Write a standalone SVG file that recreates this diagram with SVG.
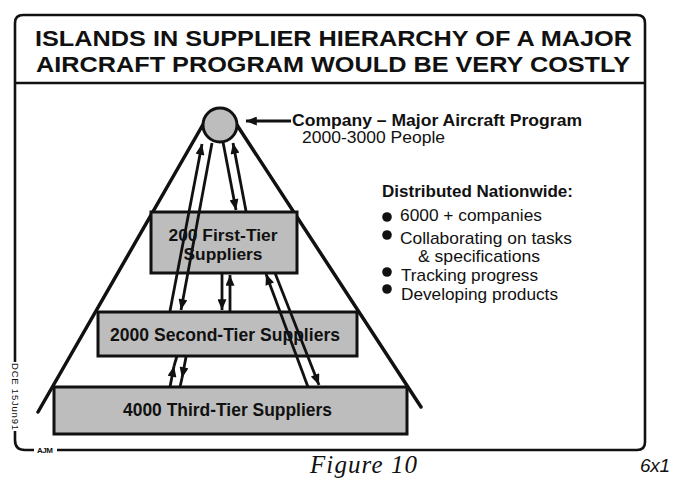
<svg xmlns="http://www.w3.org/2000/svg" width="683" height="489" viewBox="0 0 683 489">
<style>
.frame{fill:none;stroke:#111;stroke-width:2.6}
.tri{fill:none;stroke:#111;stroke-width:3.5;stroke-linecap:round}
.box{fill:#bdbdbd;stroke:#111;stroke-width:3}
.con{fill:none;stroke:#111;stroke-width:2.8}
.t{font-family:"Liberation Sans",Arial,Helvetica,sans-serif;fill:#111}
.b{font-weight:bold}
.title{font-size:21.5px;font-weight:bold}
.lbl{font-size:17.5px;font-weight:bold}
.side{font-size:17px}
</style>
<defs>
<marker id="ah" viewBox="0 0 12 10" refX="12" refY="5" markerWidth="12" markerHeight="9" markerUnits="userSpaceOnUse" orient="auto">
<path d="M0,0 L12,5 L0,10 z" fill="#111"/>
</marker>
</defs>
<rect width="683" height="489" fill="#fff"/>
<g id="frame">
<path class="frame" d="M57,450 L637,450 Q645,450 645,442 L645,23 Q645,15 637,15 L23,15 Q15,15 15,23 L15,362"/>
<path class="frame" d="M15,431 L15,440 Q15,450 25,450 L34,450"/>
<line class="frame" x1="15" y1="83" x2="645" y2="83"/>
<text class="t" x="12" y="363" transform="rotate(90 12 363)" font-size="9.5" textLength="67">DCE 15Jun91</text>
<text class="t b" x="37" y="453" font-size="8" textLength="16">AJM</text>
</g>
<g id="title">
<text class="t title" x="35" y="46" textLength="597" lengthAdjust="spacingAndGlyphs">ISLANDS IN SUPPLIER HIERARCHY OF A MAJOR</text>
<text class="t title" x="36" y="71.5" textLength="594" lengthAdjust="spacingAndGlyphs">AIRCRAFT PROGRAM WOULD BE VERY COSTLY</text>
</g>
<g id="pyramid">
<line class="tri" x1="205" y1="121" x2="38" y2="412"/>
<line class="tri" x1="235" y1="122" x2="421" y2="407"/>
</g>
<g id="company">
<circle class="box" cx="220" cy="125" r="17"/>
</g>
<g id="tier1">
<rect class="box" x="151" y="212" width="146" height="61"/>
<text class="t b" x="223" y="241" font-size="16" text-anchor="middle" textLength="109" lengthAdjust="spacingAndGlyphs">200 First-Tier</text>
<text class="t b" x="223" y="259.5" font-size="16" text-anchor="middle" textLength="79" lengthAdjust="spacingAndGlyphs">Suppliers</text>
</g>
<g id="tier2">
<rect class="box" x="98" y="312" width="259" height="44"/>
<text class="t lbl" x="225" y="341" text-anchor="middle" textLength="230" lengthAdjust="spacingAndGlyphs">2000 Second-Tier Suppliers</text>
</g>
<g id="tier3">
<rect class="box" x="54" y="387" width="353" height="47"/>
<text class="t lbl" x="227.5" y="416" text-anchor="middle" textLength="209" lengthAdjust="spacingAndGlyphs">4000 Third-Tier Suppliers</text>
</g>
<g id="connectors">
<path class="con" d="M170,311 L202,144" marker-end="url(#ah)"/>
<path class="con" d="M212,143 L181,310" marker-end="url(#ah)"/>
<path class="con" d="M223,142 L236,210" marker-end="url(#ah)"/>
<path class="con" d="M246,211 L233,143" marker-end="url(#ah)"/>
<path class="con" d="M222,273 L222,310" marker-end="url(#ah)"/>
<path class="con" d="M230,311 L230,275" marker-end="url(#ah)"/>
<path class="con" d="M308,387 L266,274" marker-end="url(#ah)"/>
<path class="con" d="M275,273 L319,385" marker-end="url(#ah)"/>
<path class="con" d="M170,387 L174,366" marker-end="url(#ah)"/>
<path class="con" d="M174,366 L177,356"/>
<path class="con" d="M186,357 L182,378" marker-end="url(#ah)"/>
<path class="con" d="M182,378 L180,387"/>
<path class="con" d="M291,121 L246,121" marker-end="url(#ah)"/>
</g>
<g id="company-label">
<text class="t b" x="292" y="126" font-size="16.5" textLength="290" lengthAdjust="spacingAndGlyphs">Company – Major Aircraft Program</text>
<text class="t" x="302" y="143" font-size="16.5" textLength="143" lengthAdjust="spacingAndGlyphs">2000-3000 People</text>
</g>
<g id="distributed">
<text class="t b" x="382" y="197" font-size="16.5" textLength="191" lengthAdjust="spacingAndGlyphs">Distributed Nationwide:</text>
<circle cx="387" cy="217" r="4.8" fill="#111"/>
<circle cx="387" cy="235" r="4.8" fill="#111"/>
<circle cx="387" cy="272" r="4.8" fill="#111"/>
<circle cx="387" cy="289" r="4.8" fill="#111"/>
<text class="t side" x="400" y="221" textLength="142" lengthAdjust="spacingAndGlyphs">6000 + companies</text>
<text class="t side" x="400" y="244" textLength="172" lengthAdjust="spacingAndGlyphs">Collaborating on tasks</text>
<text class="t side" x="418" y="262" textLength="122" lengthAdjust="spacingAndGlyphs">&amp; specifications</text>
<text class="t side" x="401" y="281" textLength="137" lengthAdjust="spacingAndGlyphs">Tracking progress</text>
<text class="t side" x="401" y="300" textLength="157" lengthAdjust="spacingAndGlyphs">Developing products</text>
</g>
<g id="caption">
<text x="310" y="473" font-family="'Liberation Serif','Times New Roman',serif" font-style="italic" font-size="25" fill="#111" textLength="107">Figure 10</text>
<text class="t" x="640" y="472" font-style="italic" font-size="19" textLength="30">6x1</text>
</g>
</svg>
